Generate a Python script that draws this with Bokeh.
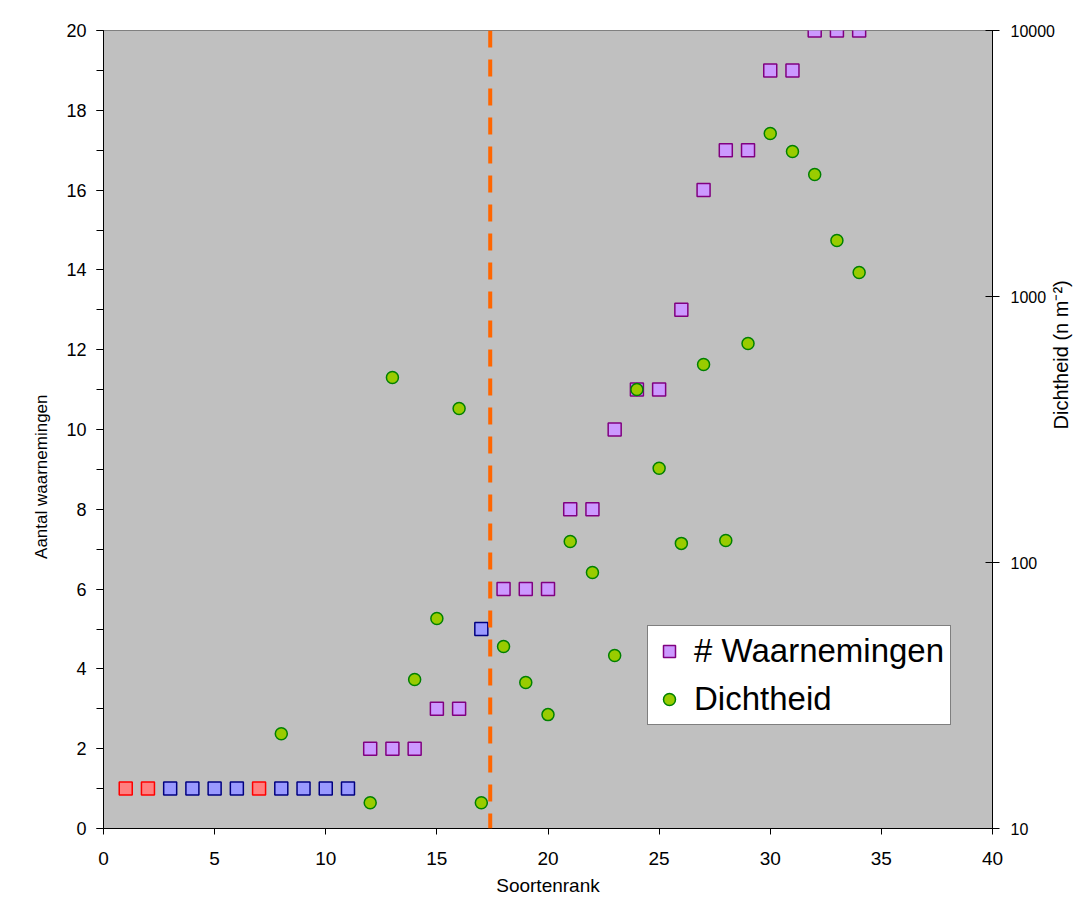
from bokeh.plotting import figure
from bokeh.models import (Range1d, LogScale, LinearAxis, LogAxis, FixedTicker, SingleIntervalTicker,
                          Span, Legend, LegendItem, ColumnDataSource, PrintfTickFormatter)
from bokeh.embed import file_html
from bokeh.resources import INLINE

# ---- data ----
rank = list(range(1, 35))
waarnemingen = [1, 1, 1, 1, 1, 1, 1, 1, 1, 1, 1, 2, 2, 2, 3, 3, 5, 6, 6, 6, 8, 8, 10, 11, 11,
                13, 16, 17, 17, 19, 19, 20, 20, 20]
groep = ["r", "r", "b", "b", "b", "b", "r", "b", "b", "b", "b",
         "v", "v", "v", "v", "v", "b",
         "v", "v", "v", "v", "v", "v", "v", "v", "v", "v", "v", "v", "v", "v", "v", "v", "v"]

dicht_rank = [8, 12, 13, 14, 15, 16, 17, 18, 19, 20, 21, 22, 23, 24, 25, 26, 27, 28, 29, 30, 31, 32, 33, 34]
dichtheid = [22.7, 12.5, 496, 36.3, 61.6, 379, 12.5, 48.3, 35.4, 26.8, 120, 91.7, 44.7, 447, 226,
             118, 555, 121, 666, 4100, 3510, 2875, 1624, 1230]

grens = 17.4
dens_ticks = [10, 100, 1000, 10000]

fill_map = {"r": "#FF8080", "b": "#9999FF", "v": "#CC99FF"}
line_map = {"r": "#FF0000", "b": "#000080", "v": "#800080"}

FONT = "Liberation Sans"

p = figure(width=1085, height=902, x_range=Range1d(0, 40), y_range=Range1d(0, 20),
           output_backend="svg", toolbar_location=None,
           min_border_left=103, min_border_right=91, min_border_top=30, min_border_bottom=74,
           x_axis_type=None, y_axis_type=None)
p.extra_y_ranges = {"dens": Range1d(10, 10000)}
p.extra_y_scales = {"dens": LogScale()}

p.background_fill_color = "#C0C0C0"
p.border_fill_color = "white"
p.outline_line_color = "#808080"
p.outline_line_width = 1

# left axis (title padded with no-break spaces so it sits lower, as in the original)
yax = LinearAxis(ticker=SingleIntervalTicker(interval=2, num_minor_ticks=2))
yax.axis_label = "Aantal waarnemingen" + "\u00a0" * 20
p.add_layout(yax, "left")
# bottom axis
xax = LinearAxis(ticker=SingleIntervalTicker(interval=5, num_minor_ticks=0))
xax.axis_label = "Soortenrank"
p.add_layout(xax, "below")
# right axis (log)
rax = LogAxis(y_range_name="dens", ticker=FixedTicker(ticks=dens_ticks, minor_ticks=[]),
              formatter=PrintfTickFormatter(format="%d"))
rax.axis_label = "Dichtheid (n m⁻²)"
rax.axis_label_orientation = 1.5708
p.add_layout(rax, "right")

for ax in (yax, xax, rax):
    ax.axis_line_color = "black"
    ax.axis_line_width = 1
    ax.major_tick_line_color = "black"
    ax.minor_tick_line_color = "black"
    ax.major_label_text_font = FONT
    ax.major_label_text_color = "black"
    ax.axis_label_text_font = FONT
    ax.axis_label_text_font_style = "normal"
    ax.axis_label_text_color = "black"

yax.major_tick_out = 7
yax.major_tick_in = 0
yax.minor_tick_out = 7
yax.minor_tick_in = 0
yax.major_label_text_font_size = "18px"
yax.major_label_standoff = 10
yax.axis_label_text_font_size = "17px"
yax.axis_label_standoff = 12

xax.major_tick_out = 6
xax.major_tick_in = 0
xax.major_label_text_font_size = "19px"
xax.major_label_standoff = 17
xax.axis_label_text_font_size = "19px"
xax.axis_label_standoff = 7

rax.major_tick_out = 7
rax.major_tick_in = 7
rax.minor_tick_out = 0
rax.minor_tick_in = 0
rax.major_label_text_font_size = "16px"
rax.major_label_standoff = 11
rax.axis_label_text_font_size = "20px"
rax.axis_label_standoff = 3

p.xgrid.visible = False
p.ygrid.ticker = yax.ticker
p.ygrid.grid_line_color = "black"
p.ygrid.grid_line_width = 1

# data renderers
src_w = ColumnDataSource(dict(x=rank, y=waarnemingen,
                              fc=[fill_map[g] for g in groep],
                              lc=[line_map[g] for g in groep]))
r_w = p.scatter("x", "y", source=src_w, marker="square", size=13,
                fill_color="fc", line_color="lc", line_width=1.5)

src_d = ColumnDataSource(dict(x=dicht_rank, y=dichtheid))
r_d = p.scatter("x", "y", source=src_d, marker="circle", size=12, y_range_name="dens",
                fill_color="#99CC00", line_color="#008000", line_width=1.5)

p.add_layout(Span(location=grens, dimension="height", line_color="#FF6600",
                  line_width=4, line_dash="17 12"))

legend = Legend(items=[LegendItem(label="# Waarnemingen", renderers=[r_w], index=11),
                       LegendItem(label="Dichtheid", renderers=[r_d])],
                location=(544, 103))
legend.label_text_font = FONT
legend.label_text_font_size = "33px"
legend.label_text_color = "black"
legend.glyph_width = 30
legend.glyph_height = 30
legend.padding = 6
legend.spacing = 10
legend.label_standoff = 10
legend.margin = 0
legend.border_line_color = "black"
legend.border_line_width = 1
legend.background_fill_color = "white"
legend.background_fill_alpha = 1
p.add_layout(legend, "center")

open("out.html", "w").write(file_html(p, INLINE))
